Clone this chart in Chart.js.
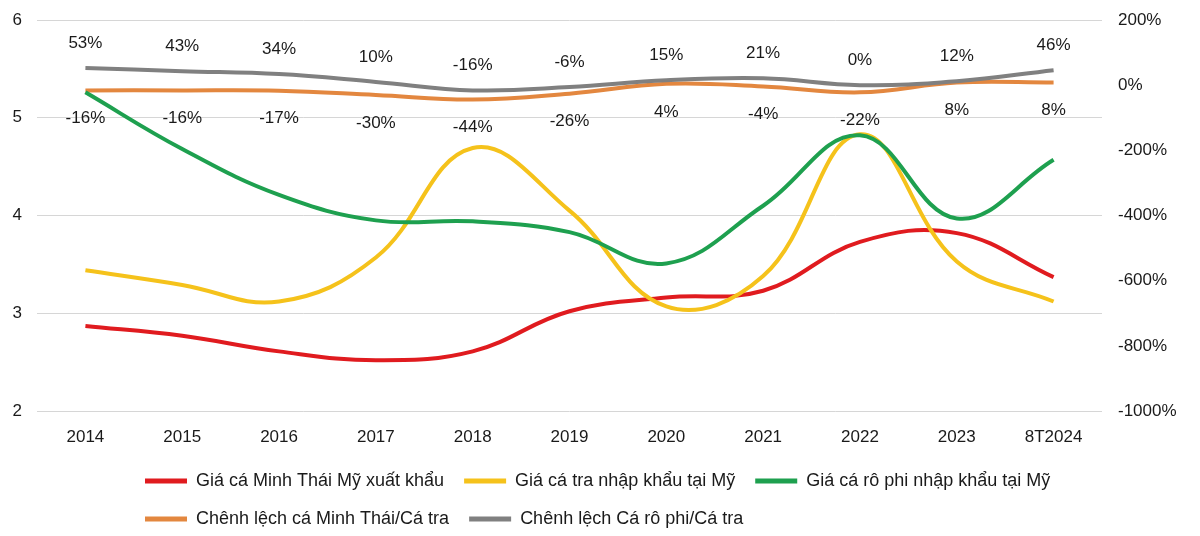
<!DOCTYPE html>
<html>
<head>
<meta charset="utf-8">
<script src="https://cdn.jsdelivr.net/npm/chart.js@4"></script>
<style>
html,body{margin:0;padding:0;background:#fff;}
#khung{width:1200px;height:536px;}
</style>
</head>
<body>
<div id="khung"><canvas id="bieuDo"></canvas></div>
<script>
const nam = ["2014","2015","2016","2017","2018","2019","2020","2021","2022","2023","8T2024"];

// gia (truc trai)
const giaMinhThai = [2.87, 2.77, 2.61, 2.52, 2.61, 3.02, 3.16, 3.23, 3.73, 3.82, 3.37];
const giaCaTra    = [3.44, 3.29, 3.12, 3.57, 4.69, 4.05, 3.07, 3.38, 4.83, 3.53, 3.12];
const giaRoPhi    = [5.26, 4.68, 4.21, 3.95, 3.94, 3.83, 3.51, 4.10, 4.82, 3.97, 4.57];

// chenh lech (truc phai, %)
const chenhMinhThai = [-16, -16, -17, -30, -44, -26, 4, -4, -22, 8, 8];
const chenhRoPhi    = [53, 43, 34, 10, -16, -6, 15, 21, 0, 12, 46];

const truPhaiTicks = [200, 0, -200, -400, -600, -800, -1000];

Chart.defaults.font.family = "'Liberation Sans', Arial, sans-serif";
Chart.defaults.color = "#1a1a1a";

// ve nhan % len diem
const nhanPhanTram = {
  id: "nhanPhanTram",
  afterDatasetsDraw(chart){
    const ctx = chart.ctx;
    ctx.save();
    ctx.font = "17px 'Liberation Sans', Arial, sans-serif";
    ctx.fillStyle = "#1a1a1a";
    ctx.textAlign = "center";
    ctx.textBaseline = "middle";
    chart.data.datasets.forEach((ds, i) => {
      if(!ds.nhan) return;
      const meta = chart.getDatasetMeta(i);
      meta.data.forEach((p, j) => {
        const dy = ds.nhan == "tren" ? -25 : 28;
        ctx.fillText(ds.data[j] + "%", p.x, p.y + dy);
      });
    });
    ctx.restore();
  }
};

// dich chu thich sang trai nhu ban goc
const dichChuThich = {
  id: "dichChuThich",
  afterLayout(chart){
    const lg = chart.legend;
    lg.left = 125;
    lg.right = 1200;
    lg.top += 2;
    lg.bottom += 2;
  }
};

function coDinhTruc(w){
  return function(ax){
    ax.width = w;
    ax.paddingTop = 10;
    ax.paddingBottom = 10;
  };
}

new Chart(document.getElementById("bieuDo"), {
  type: "line",
  data: {
    labels: nam,
    datasets: [
      {label:"Giá cá Minh Thái Mỹ xuất khẩu", data:giaMinhThai, yAxisID:"y", borderColor:"#e01b1f", backgroundColor:"#e01b1f", order:2},
      {label:"Giá cá tra nhập khẩu tại Mỹ", data:giaCaTra, yAxisID:"y", borderColor:"#f5c21b", backgroundColor:"#f5c21b", order:1},
      {label:"Giá cá rô phi nhập khẩu tại Mỹ", data:giaRoPhi, yAxisID:"y", borderColor:"#1ea04f", backgroundColor:"#1ea04f", order:0},
      {label:"Chênh lệch cá Minh Thái/Cá tra", data:chenhMinhThai, yAxisID:"y1", borderColor:"#e3873f", backgroundColor:"#e3873f", order:4, nhan:"duoi"},
      {label:"Chênh lệch Cá rô phi/Cá tra", data:chenhRoPhi, yAxisID:"y1", borderColor:"#808080", backgroundColor:"#808080", order:3, nhan:"tren"}
    ]
  },
  options: {
    responsive: true,
    maintainAspectRatio: false,
    animation: false,
    layout: {padding: {top:20, left:12, right:0, bottom:0}},
    elements: {
      line: {tension:0.4, borderWidth:4, cubicInterpolationMode:"default"},
      point: {radius:0}
    },
    scales: {
      x: {
        offset: true,
        grid: {display:false, drawTicks:false},
        border: {display:false},
        ticks: {font:{size:17}, padding:16, maxRotation:0},
        afterFit(ax){ ax.height = 39; }
      },
      y: {
        position: "left",
        min: 2, max: 6,
        ticks: {stepSize:1, font:{size:17}, padding:15},
        grid: {color:"#d6d6d6", lineWidth:1, drawTicks:false},
        border: {display:false},
        afterFit: coDinhTruc(25)
      },
      y1: {
        position: "right",
        min: -1000, max: 200,
        afterBuildTicks(ax){ ax.ticks = truPhaiTicks.map(v => ({value:v})); },
        ticks: {font:{size:17}, padding:16, callback: v => v + "%"},
        grid: {display:false, drawTicks:false},
        border: {display:false},
        afterFit: coDinhTruc(98)
      }
    },
    plugins: {
      legend: {
        position: "bottom",
        align: "start",
        labels: {
          boxWidth: 42,
          boxHeight: 5,
          padding: 20,
          font: {size:18},
          color: "#1a1a1a",
          sort: (a, b) => a.datasetIndex - b.datasetIndex,
          generateLabels(chart){
            return Chart.defaults.plugins.legend.labels.generateLabels(chart).map(it => {
              it.lineWidth = 0;
              return it;
            });
          }
        }
      },
      tooltip: {enabled:false}
    }
  },
  plugins: [nhanPhanTram, dichChuThich]
});
</script>
</body>
</html>
